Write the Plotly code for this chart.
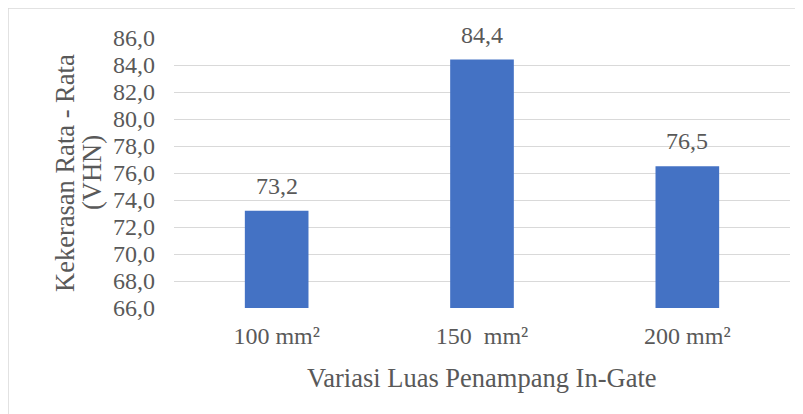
import plotly.graph_objects as go

categories = ["100 mm²", "150\u00a0 mm²", "200 mm²"]
values = [73.2, 84.4, 76.5]
y_ticks = [66, 68, 70, 72, 74, 76, 78, 80, 82, 84, 86]
y_tick_labels = [f"{v:.1f}".replace(".", ",") for v in y_ticks]
value_labels = [f"{v:.1f}".replace(".", ",") for v in values]

FONT = "Liberation Serif, Times New Roman, serif"
GRAY = "#595959"

# page has an 8px body margin; figure coordinates are offset accordingly
OFF = 8
L, T, R, B = 174 - OFF, 38 - OFF, 13, 106
W, H = 803 - OFF, 414 - OFF
PW, PH = W - L - R, H - T - B

fig = go.Figure(go.Bar(x=categories, y=values, marker=dict(color="#4472C4", line=dict(width=0)),
                       hoverinfo="skip"))

annotations = []
for c, v, t in zip(categories, values, value_labels):
    annotations.append(dict(x=c, y=v, xref="x", yref="y", text=t, showarrow=False,
                            yanchor="bottom", yshift=10,
                            font=dict(family=FONT, size=24, color=GRAY)))

# axis titles
annotations.append(dict(x=(65 - 174) / PW, y=0.5, xref="paper", yref="paper",
                        text="Kekerasan Rata - Rata", textangle=-90, showarrow=False,
                        xanchor="center", yanchor="middle",
                        font=dict(family=FONT, size=26.5, color=GRAY)))
annotations.append(dict(x=(92 - 174) / PW, y=0.5, xref="paper", yref="paper",
                        text="(VHN)", textangle=-90, showarrow=False,
                        xanchor="center", yanchor="middle",
                        font=dict(family=FONT, size=26.5, color=GRAY)))
annotations.append(dict(x=0.5, y=(308 - 378) / PH, xref="paper", yref="paper",
                        text="Variasi Luas Penampang In-Gate", showarrow=False,
                        xanchor="center", yanchor="middle",
                        font=dict(family=FONT, size=26.5, color=GRAY)))

fig.update_layout(
    width=W, height=H,
    margin=dict(l=L, r=R, t=T, b=B),
    paper_bgcolor="white", plot_bgcolor="white",
    bargap=0.69,
    showlegend=False,
    separators=",.",
    annotations=annotations,
    shapes=[dict(type="rect", xref="paper", yref="paper",
                 x0=(8 - 174) / PW, x1=1.2, y0=-0.6, y1=1 + 30 / PH,
                 line=dict(color="#d9d9d9", width=1.5), fillcolor="rgba(0,0,0,0)", layer="below")],
)
fig.update_xaxes(showgrid=False, showline=False, zeroline=False, ticks="",
                 tickfont=dict(family=FONT, size=24, color=GRAY), ticklabelstandoff=11)
fig.update_yaxes(range=[66, 86], tickvals=y_ticks, ticktext=y_tick_labels,
                 showgrid=True, gridcolor="#d9d9d9", gridwidth=1.3, zeroline=False, showline=False,
                 ticks="", tickfont=dict(family=FONT, size=24, color=GRAY), ticklabelstandoff=18)

fig.write_html("out.html")
